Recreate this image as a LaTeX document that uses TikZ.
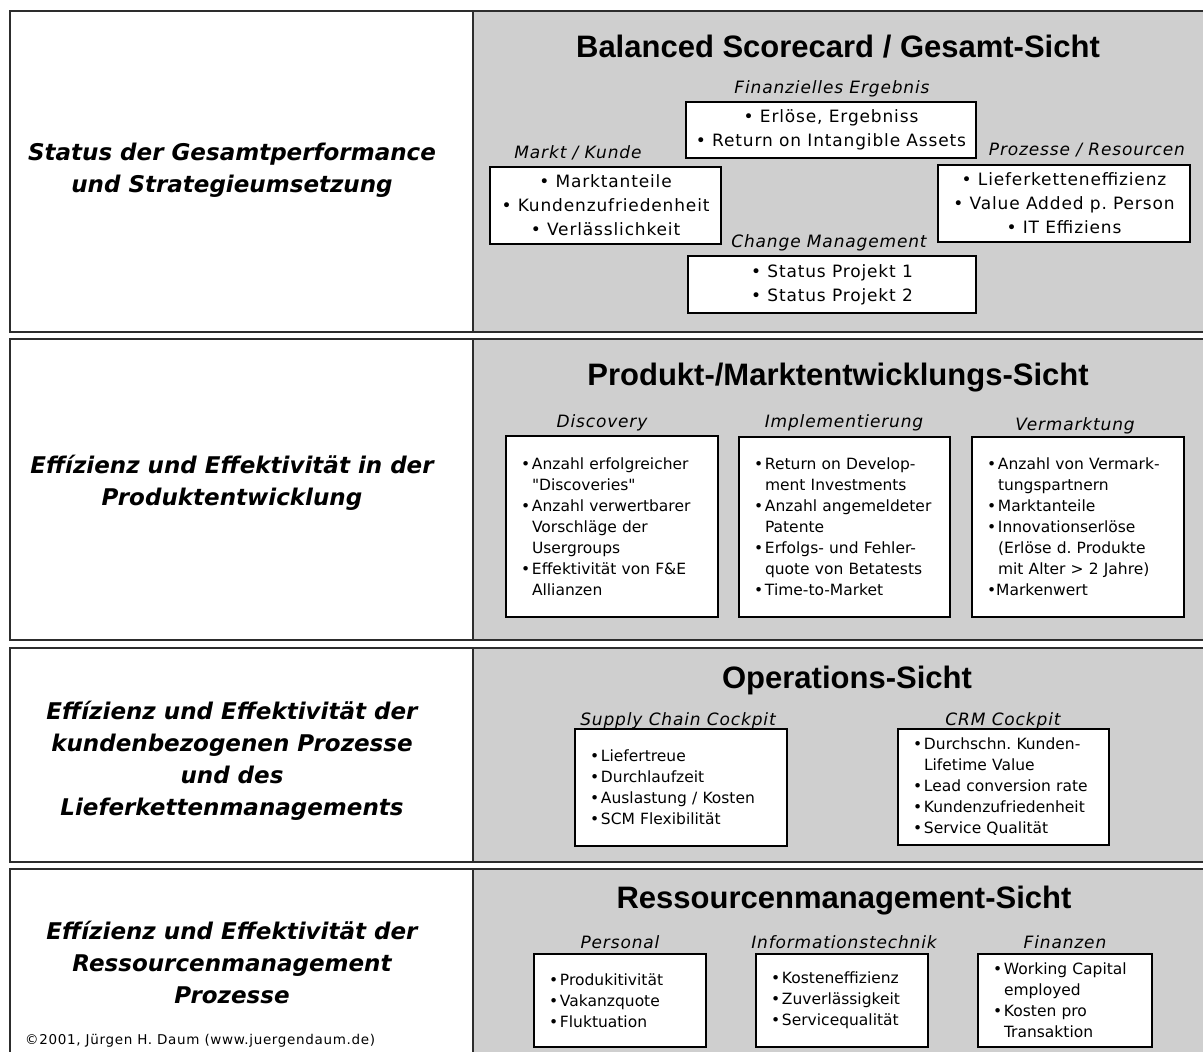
\documentclass[tikz,border=0pt]{standalone}
\usepackage{fontspec}
\setmainfont{DejaVu Sans}
\newfontfamily\headfont{Liberation Sans}
\newfontfamily\spacedfont[LetterSpace=5]{DejaVu Sans}
\newfontfamily\boxfont[Ligatures=TeXOff]{DejaVu Sans}
\usepackage{xcolor}
\usepackage{tikz}
\usetikzlibrary{positioning}
\frenchspacing

\definecolor{cellgray}{RGB}{207,207,207}
\definecolor{linegray}{RGB}{45,45,45}

\newcommand{\bul}{\makebox[11pt][l]{•}}
\newcommand{\ind}{\hspace*{11pt}}

\tikzset{
  frame/.style={draw=linegray, line width=2pt},
  head/.style={anchor=base, inner sep=0pt, font=\headfont\bfseries\fontsize{31}{36}\selectfont},
  lab/.style={anchor=base, inner sep=0pt, font=\spacedfont\itshape\fontsize{17}{20}\selectfont},
  side/.style={align=center, inner sep=0pt, font=\bfseries\itshape\fontsize{23}{32}\selectfont},
  cbox/.style={draw=black, line width=1.8pt, fill=white, align=center, inner sep=0pt,
    font=\spacedfont\fontsize{17}{24}\selectfont},
  lbox/.style={draw=black, line width=1.8pt, fill=white, align=left, inner xsep=15pt, inner ysep=0pt,
    font=\boxfont\fontsize{15.5}{21}\selectfont},
}

\begin{document}
\begin{tikzpicture}[x=1pt, y=-1pt]
    \useasboundingbox (0,0) rectangle (1203,1052);

    % row cells
    \fill[cellgray] (473,11) rectangle (1203,332);
    \draw[frame] (1203,11) -- (10,11) -- (10,332) -- (1203,332);
    \draw[frame] (473,11) -- (473,332);

    \fill[cellgray] (473,339) rectangle (1203,640);
    \draw[frame] (1203,339) -- (10,339) -- (10,640) -- (1203,640);
    \draw[frame] (473,339) -- (473,640);

    \fill[cellgray] (473,648) rectangle (1203,862);
    \draw[frame] (1203,648) -- (10,648) -- (10,862) -- (1203,862);
    \draw[frame] (473,648) -- (473,862);

    \fill[cellgray] (473,869) rectangle (1203,1052);
    \draw[frame] (10,1052) -- (10,869) -- (1203,869);
    \draw[frame] (473,869) -- (473,1052);

    % left column
    \node[side] (status) at (232,170) {Status der Gesamtperformance\\und Strategieumsetzung};
    \node[side] (entw) at (232,483) {Effízienz und Effektivität in der\\Produktentwicklung};
    \node[side] (kunden) at (232,761) {Effízienz und Effektivität der\\kundenbezogenen Prozesse\\und des\\Lieferkettenmanagements};
    \node[side] (resprz) at (232,962) {Effízienz und Effektivität der\\Ressourcenmanagement\\Prozesse};
    \node[anchor=base west, inner sep=0pt, font=\spacedfont\fontsize{13.5}{15}\selectfont] (copyright) at (25,1044) {©2001, Jürgen H. Daum (www.juergendaum.de)};

    % Gesamt-Sicht
    \node[head] (gesamt) at (838,57) {Balanced Scorecard / Gesamt-Sicht};
    \node[lab] (finlab) at (832,93) {Finanzielles Ergebnis};
    \node[cbox, minimum width=290pt, minimum height=56pt] (fin) at (831,130) {• Erlöse, Ergebniss\\• Return on Intangible Assets};
    \node[lab] (marktlab) at (578,158) {Markt / Kunde};
    \node[cbox, minimum width=231pt, minimum height=77pt] (markt) at (605.5,205.5) {• Marktanteile\\• Kundenzufriedenheit\\• Verlässlichkeit};
    \node[lab] (prozlab) at (1087,155) {Prozesse / Resourcen};
    \node[cbox, minimum width=252pt, minimum height=77pt] (proz) at (1064,203.5) {• Lieferketteneffizienz\\• Value Added p. Person\\• IT Effiziens};
    \node[lab] (chglab) at (829,247) {Change Management};
    \node[cbox, minimum width=288pt, minimum height=57pt] (chg) at (832,284.5) {• Status Projekt 1\\• Status Projekt 2};

    % Produkt-/Marktentwicklungs-Sicht
    \node[head] (produkt) at (838,385) {Produkt-/Marktentwicklungs-Sicht};
    \node[lab] (disclab) at (602,427) {Discovery};
    \node[lab] (impllab) at (844,427) {Implementierung};
    \node[lab] (vermlab) at (1075,430) {Vermarktung};
    \node[lbox, text width=182pt, minimum height=181pt] (disc) at (612,526.5)
        {\bul Anzahl erfolgreicher\\\ind "Discoveries"\\\bul Anzahl verwertbarer\\\ind Vorschläge der\\\ind Usergroups\\\bul Effektivität von F\&E\\\ind Allianzen};
    \node[lbox, text width=181pt, minimum height=180pt] (impl) at (844.5,527)
        {\bul Return on Develop-\\\ind ment Investments\\\bul Anzahl angemeldeter\\\ind Patente\\\bul Erfolgs- und Fehler-\\\ind quote von Betatests\\\bul Time-to-Market};
    \node[lbox, text width=182pt, minimum height=180pt] (verm) at (1078,527)
        {\bul Anzahl von Vermark-\\\ind tungspartnern\\\bul Marktanteile\\\bul Innovationserlöse\\\ind (Erlöse d. Produkte\\\ind mit Alter > 2 Jahre)\\•Markenwert};

    % Operations-Sicht
    \node[head] (ops) at (847,688) {Operations-Sicht};
    \node[lab] (scmlab) at (678,725) {Supply Chain Cockpit};
    \node[lab] (crmlab) at (1003,725) {CRM Cockpit};
    \node[lbox, text width=182pt, minimum height=117pt] (scm) at (681,787.5)
        {\bul Liefertreue\\\bul Durchlaufzeit\\\bul Auslastung / Kosten\\\bul SCM Flexibilität};
    \node[lbox, text width=181pt, minimum height=116pt] (crm) at (1003.5,787)
        {\bul Durchschn. Kunden-\\\ind Lifetime Value\\\bul Lead conversion rate\\\bul Kundenzufriedenheit\\\bul Service Qualität};

    % Ressourcenmanagement-Sicht
    \node[head] (ress) at (844,908) {Ressourcenmanagement-Sicht};
    \node[lab] (perslab) at (620,948) {Personal};
    \node[lab] (infolab) at (844,948) {Informationstechnik};
    \node[lab] (finanzlab) at (1065,948) {Finanzen};
    \node[lbox, text width=142pt, minimum height=93pt] (pers) at (620,1000.5)
        {\bul Produkitivität\\\bul Vakanzquote\\\bul Fluktuation};
    \node[lbox, text width=142pt, minimum height=93pt] (info) at (842,1000.5)
        {\bul Kosteneffizienz\\\bul Zuverlässigkeit\\\bul Servicequalität};
    \node[lbox, text width=144pt, minimum height=93pt] (finanz) at (1065,1000.5)
        {\bul Working Capital\\\ind employed\\\bul Kosten pro\\\ind Transaktion};
\end{tikzpicture}
\end{document}
